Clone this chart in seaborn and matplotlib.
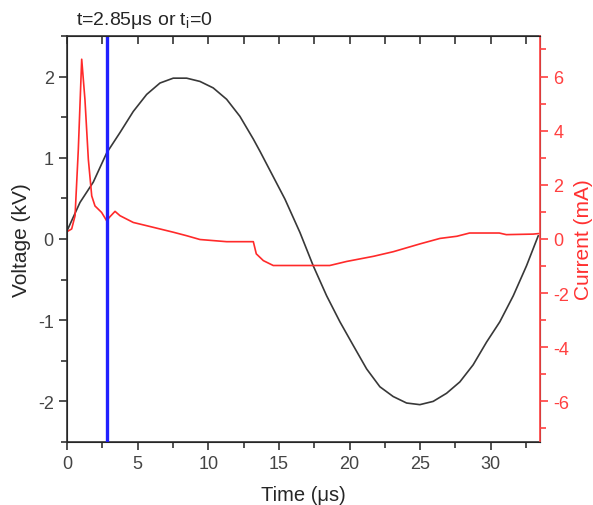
import numpy as np
import pandas as pd
import matplotlib
matplotlib.use("Agg")
import matplotlib.pyplot as plt
from matplotlib.ticker import MultipleLocator
import seaborn as sns

# voltage trace (kV)
t_volt = [0.0, 0.92, 1.86, 2.81, 3.75, 4.69, 5.64, 6.58, 7.52, 8.47, 9.41, 10.35,
          11.3, 12.24, 13.19, 13.66, 15.43, 16.49, 17.43, 18.38, 19.32, 20.26,
          21.21, 22.15, 23.09, 24.04, 24.98, 25.92, 26.87, 27.81, 28.75, 29.7,
          30.64, 31.59, 32.53, 33.36]
volt = [0.10, 0.45, 0.70, 1.06, 1.31, 1.57, 1.78, 1.92, 1.98, 1.98, 1.94, 1.86,
        1.72, 1.51, 1.23, 1.08, 0.49, 0.08, -0.33, -0.70, -1.02, -1.31,
        -1.60, -1.82, -1.94, -2.02, -2.04, -2.00, -1.90, -1.76, -1.55, -1.27,
        -1.02, -0.70, -0.33, 0.04]

# current trace (mA)
t_curr = [0.0, 0.33, 0.57, 0.8, 1.04, 1.27, 1.51, 1.75, 1.98, 2.45, 2.81, 3.0,
          3.4, 3.75, 4.69, 5.64, 6.58, 7.52, 8.47, 9.41, 10.35, 11.3, 13.19,
          13.4, 13.9, 14.6, 18.6, 19.8, 21.7, 23.1, 25.0, 26.4, 27.6, 28.5,
          30.6, 31.1, 33.0, 33.4]
curr = [0.27, 0.37, 0.86, 3.3, 6.64, 5.15, 2.94, 1.59, 1.22, 0.98, 0.67, 0.80,
        1.02, 0.86, 0.61, 0.49, 0.37, 0.25, 0.12, -0.02, -0.06, -0.10, -0.10,
        -0.55, -0.80, -0.98, -0.98, -0.83, -0.64, -0.47, -0.18, 0.02, 0.10, 0.22,
        0.22, 0.16, 0.18, 0.20]

t_mark = 2.85

df_v = pd.DataFrame({"t": t_volt, "V": volt})
df_i = pd.DataFrame({"t": t_curr, "I": curr})

sns.set_style("ticks")
plt.rcParams["font.family"] = ["Liberation Sans", "DejaVu Sans"]
plt.rcParams["axes.unicode_minus"] = False

fig = plt.figure(figsize=(5.93, 5.06), dpi=100)
ax = fig.add_axes([0.113, 0.1245, 0.798, 0.8025])

sns.lineplot(data=df_v, x="t", y="V", ax=ax, color="#383838", lw=1.2)
ax.set_xlim(0, 33.5)
ax.set_ylim(-2.5, 2.5)
ax.xaxis.set_major_locator(MultipleLocator(5))
ax.xaxis.set_minor_locator(MultipleLocator(2.5))
ax.yaxis.set_major_locator(MultipleLocator(1))
ax.yaxis.set_minor_locator(MultipleLocator(0.5))
ax.tick_params(which="both", direction="out", colors="#333333", width=1.2,
               labelsize=13, labelcolor="#444444", top=False)
ax.tick_params(which="major", length=6)
ax.tick_params(which="minor", length=4)
ax.set_xlabel("Time (μs)", fontsize=14.5, labelpad=9)
ax.set_ylabel("Voltage (kV)", fontsize=15, labelpad=5)
for s in ["left", "bottom", "top"]:
    ax.spines[s].set_linewidth(1.2)
    ax.spines[s].set_color("#333333")

ax2 = ax.twinx()
sns.lineplot(data=df_i, x="t", y="I", ax=ax2, color="#ff2a2a", lw=1.2)
ax2.axvline(t_mark, color="#2020ff", lw=2.4)
ax2.set_ylim(-7.5, 7.5)
ax2.yaxis.set_major_locator(MultipleLocator(2))
ax2.yaxis.set_minor_locator(MultipleLocator(1))
ax2.tick_params(axis="y", which="both", direction="out", colors="#ff4040",
                width=1.2, labelsize=13)
ax2.tick_params(axis="y", which="major", length=6)
ax2.tick_params(axis="y", which="minor", length=4)
ax2.spines["right"].set_color("#ff4040")
ax2.spines["right"].set_linewidth(1.2)
ax2.set_ylabel("Current (mA)", fontsize=15, color="#ff3030", labelpad=3)

# mirrored ticks on top, pointing inward
ax2.xaxis.set_visible(True)
ax2.set_xlabel("")
ax2.tick_params(axis="x", which="both", bottom=False, labelbottom=False,
                top=True, labeltop=False, direction="in", length=6,
                width=1.2, color="#333333")

fig.text(0.128, 0.96, "t=2.85μs or t$_\\mathregular{i}$=0", fontsize=14,
         va="center", ha="left")

fig.savefig("out.png", dpi=100, facecolor="white")
